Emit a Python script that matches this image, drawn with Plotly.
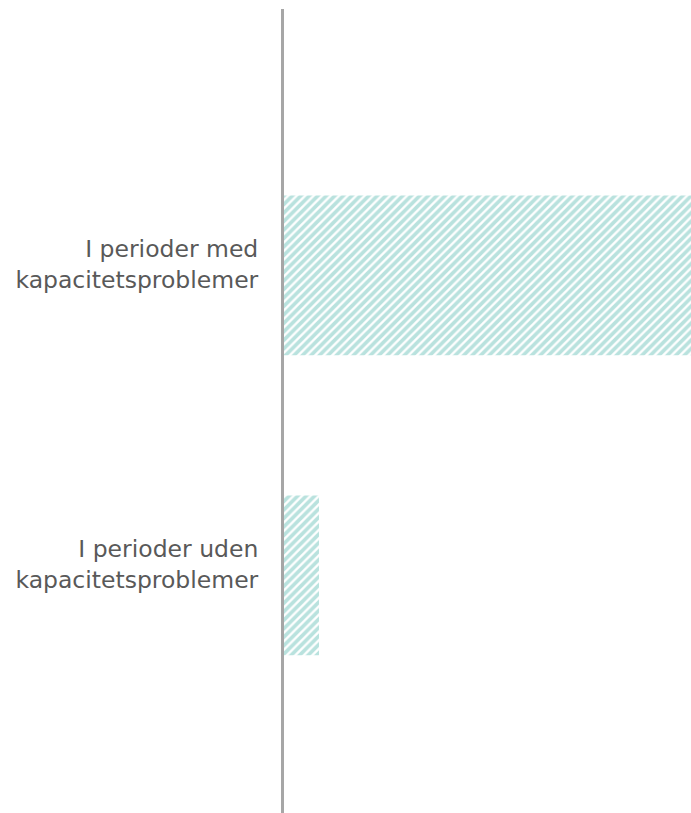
import plotly.graph_objects as go

# Share of observations by capacity situation
categories = ["I perioder med<br>kapacitetsproblemer", "I perioder uden<br>kapacitetsproblemer"]
values = [93, 8]
positions = [0, 1]

fig = go.Figure(
    go.Bar(
        x=values,
        y=positions,
        orientation="h",
        width=0.533,
        marker=dict(
            color="white",
            line=dict(width=0),
            pattern=dict(shape="/", fgcolor="#74c6be", bgcolor="white", size=6, solidity=0.62),
        ),
        hoverinfo="skip",
    )
)

fig.update_layout(
    width=691,
    height=813,
    margin=dict(l=284, r=0, t=9, b=0),
    paper_bgcolor="white",
    plot_bgcolor="white",
    showlegend=False,
    font=dict(family="DejaVu Sans", color="#595959", size=23),
    xaxis=dict(range=[0, 93], visible=False, fixedrange=True),
    yaxis=dict(
        range=[1.792, -0.888],
        tickvals=positions,
        ticktext=categories,
        tickfont=dict(family="DejaVu Sans", color="#595959", size=23.5),
        showgrid=False,
        zeroline=False,
        showline=True,
        linecolor="#a6a6a6",
        linewidth=3,
        ticks="",
        ticklabelstandoff=18,
        ticklabelshift=11,
        fixedrange=True,
    ),
)

fig.write_html("out.html")
